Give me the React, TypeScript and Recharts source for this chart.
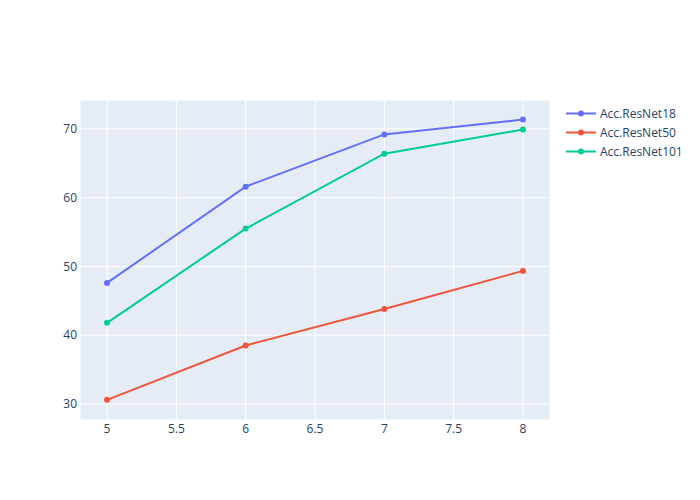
import React from 'react';
import { LineChart, Line, XAxis, YAxis, CartesianGrid } from 'recharts';

const epochs = [5, 6, 7, 8];
const accResNet18 = [47.6, 61.6, 69.2, 71.35];
const accResNet50 = [30.6, 38.5, 43.8, 49.35];
const accResNet101 = [41.8, 55.5, 66.4, 69.9];
const xTicks = [5, 5.5, 6, 6.5, 7, 7.5, 8];
const yTicks = [30, 40, 50, 60, 70];

const SERIES = [
  { key: 'Acc.ResNet18', color: '#636efa' },
  { key: 'Acc.ResNet50', color: '#EF553B' },
  { key: 'Acc.ResNet101', color: '#00cc96' },
];

const data = epochs.map((x, i) => ({
  x,
  'Acc.ResNet18': accResNet18[i],
  'Acc.ResNet50': accResNet50[i],
  'Acc.ResNet101': accResNet101[i],
}));

const FONT = '"Open Sans", sans-serif';
const TEXT = '#2a3f5f';

// plotly-style legend, placed beside the plot area
const PlotlyLegend = () => (
  <div style={{ position: 'absolute', left: 560, top: 104, fontFamily: FONT, fontSize: 12, color: TEXT }}>
    {SERIES.map(s => (
      <div key={s.key} style={{ display: 'flex', alignItems: 'center', height: 19 }}>
        <svg width={40} height={19}>
          <line x1={6} x2={36} y1={9.5} y2={9.5} stroke={s.color} strokeWidth={2} />
          <circle cx={21} cy={9.5} r={3} fill={s.color} />
        </svg>
        <span>{s.key}</span>
      </div>
    ))}
  </div>
);

export default function App() {
  return (
    <div style={{ position: 'absolute', left: 0, top: 0, width: 700, height: 500, background: '#fff' }}>
      <LineChart width={700} height={500} data={data} margin={{ top: 100, right: 150, bottom: 50, left: 0 }}>
        <CartesianGrid fill="#E5ECF6" stroke="#ffffff" strokeWidth={1} />
        <XAxis
          dataKey="x"
          type="number"
          domain={[4.805, 8.195]}
          ticks={xTicks}
          allowDataOverflow
          axisLine={false}
          tickLine={false}
          tickSize={0}
          tickMargin={4}
          height={30}
          tick={{ fill: TEXT, fontSize: 12, fontFamily: FONT }}
        />
        <YAxis
          type="number"
          domain={[27.67, 74.2]}
          ticks={yTicks}
          allowDataOverflow
          axisLine={false}
          tickLine={false}
          tickSize={0}
          tickMargin={3}
          width={80}
          tick={{ fill: TEXT, fontSize: 12, fontFamily: FONT }}
        />
        {SERIES.map(s => (
          <Line
            key={s.key}
            dataKey={s.key}
            stroke={s.color}
            strokeWidth={2}
            dot={{ r: 3, fill: s.color, stroke: s.color, strokeWidth: 0 }}
            activeDot={false}
            isAnimationActive={false}
          />
        ))}
      </LineChart>
      <PlotlyLegend />
    </div>
  );
}
